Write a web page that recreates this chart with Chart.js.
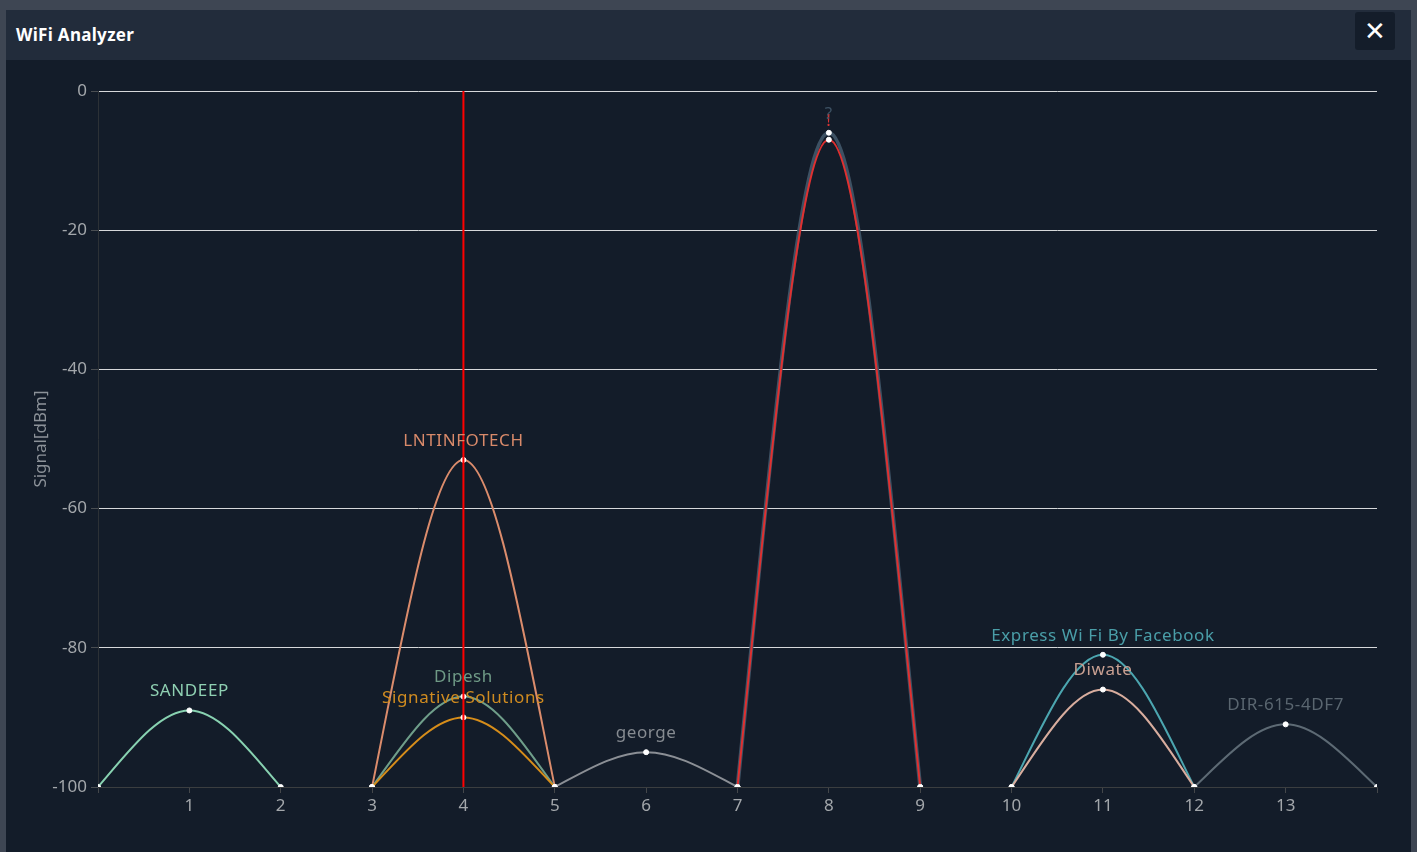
<!DOCTYPE html>
<html>
<head>
<meta charset="utf-8">
<script src="https://cdn.jsdelivr.net/npm/chart.js@4/dist/chart.umd.min.js"></script>
<style>
  html, body { margin: 0; padding: 0; width: 1417px; height: 852px; overflow: hidden; background: #3e4653; }
  #panel { position: absolute; left: 6px; top: 10px; width: 1405px; height: 842px; background: #131c29; }
  #header { position: absolute; left: 0; top: 0; width: 1405px; height: 50px; background: #222c3b; }
  #title { position: absolute; left: 10px; top: 13px; font-family: "Noto Sans", "Open Sans", sans-serif; font-weight: 700; font-size: 17px; letter-spacing: 0.3px; color: #ffffff; }
  #close { position: absolute; left: 1349px; top: 2px; width: 40px; height: 38px; background: #141d2a; border-radius: 3px; color: #fff; font-family: "DejaVu Sans", sans-serif; font-size: 26px; line-height: 38px; text-align: center; }
  #wrap { position: absolute; left: 0; top: 50px; width: 1405px; height: 792px; }
</style>
</head>
<body>
<div id="panel">
  <div id="header"><div id="title">WiFi Analyzer</div><div id="close">✕</div></div>
  <div id="wrap"><canvas id="c" width="1405" height="792"></canvas></div>
</div>
<script>
// ---- data ----
const networks = ['SANDEEP', 'LNTINFOTECH', 'Dipesh', 'Signative Solutions', 'george', '!', '?', 'Express Wi Fi By Facebook', 'Diwate', 'DIR-615-4DF7'];
const channels = [1, 4, 4, 4, 6, 8, 8, 11, 11, 13];
const signals  = [-89, -53, -87, -90, -95, -7, -6, -81, -86, -91];
const floorSignal = -100;
const selectedChannel = 4;
const xTickValues = [1, 2, 3, 4, 5, 6, 7, 8, 9, 10, 11, 12, 13];
const yTickValues = [0, -20, -40, -60, -80, -100];
const yTitle = 'Signal[dBm]';

// ---- styles ----
const lineColors = ['#88d2b1', '#db8c6c', '#6f9e8a', '#d68d1a', '#8b8f95', '#e03030', '#3d5163', '#4ca6b0', '#d8ad9e', '#5d6a74'];
const labelColors = ['#8fd0b2', '#d98a6a', '#6f9a86', '#cf8b20', '#868b91', '#d63434', '#3d5163', '#4a9ea8', '#c9a092', '#5a6670'];
const footSteepness = 0.46; // shape of the channel arcs (1/3 = monotone, 2/3 = parabola)

const datasets = networks.map((name, i) => ({
  label: name,
  data: [
    { x: channels[i] - 1, y: floorSignal },
    { x: channels[i], y: signals[i] },
    { x: channels[i] + 1, y: floorSignal }
  ],
  borderColor: lineColors[i],
  borderWidth: name === '?' ? 4 : 2,
  cubicInterpolationMode: 'monotone',
  pointRadius: 2.5,
  pointBackgroundColor: '#ffffff',
  pointBorderColor: '#ffffff',
  pointBorderWidth: 1,
  order: 20 - i,
  fill: false,
  arc: true
}));
datasets[6].order = 30; // slate '?' below red
datasets.push({
  label: 'selected',
  data: [{ x: selectedChannel, y: 0 }, { x: selectedChannel, y: floorSignal }],
  borderColor: '#ff0000',
  borderWidth: 2,
  pointRadius: 0,
  tension: 0,
  order: 0,
  fill: false
});

// arc shaping: set bezier control points from the scale-computed pixel positions
const arcPlugin = {
  id: 'arcShape',
  beforeDatasetDraw(chart, args) {
    const meta = args.meta;
    const ds = chart.data.datasets[args.index];
    if (!ds.arc) return;
    const pts = meta.data;
    if (pts.length !== 3) return;
    const [p0, p1, p2] = pts;
    const dxl = (p1.x - p0.x) / 3, dxr = (p2.x - p1.x) / 3;
    p0.cp1x = p0.x; p0.cp1y = p0.y;
    p0.cp2x = p0.x + dxl; p0.cp2y = p0.y + footSteepness * (p1.y - p0.y);
    p1.cp1x = p1.x - dxl; p1.cp1y = p1.y;
    p1.cp2x = p1.x + dxr; p1.cp2y = p1.y;
    p2.cp1x = p2.x - dxr; p2.cp1y = p2.y + footSteepness * (p1.y - p2.y);
    p2.cp2x = p2.x; p2.cp2y = p2.y;
    meta.dataset._pointsUpdated = true;
    delete meta.dataset._path;
  }
};

const labelPlugin = {
  id: 'peakLabels',
  afterDatasetsDraw(chart) {
    const ctx = chart.ctx;
    ctx.save();
    ctx.font = '17px "Noto Sans", "Open Sans", sans-serif';
    if ('letterSpacing' in ctx) ctx.letterSpacing = '0.6px';
    ctx.textAlign = 'center';
    ctx.textBaseline = 'middle';
    networks.forEach((name, i) => {
      const pt = chart.getDatasetMeta(i).data[1];
      ctx.fillStyle = labelColors[i];
      ctx.fillText(name, pt.x, pt.y - 19);
    });
    ctx.restore();
  }
};

const tickFont = { family: '"Noto Sans", "Open Sans", sans-serif', size: 17 };

new Chart(document.getElementById('c'), {
  type: 'line',
  data: { datasets },
  options: {
    responsive: false,
    animation: false,
    layout: { padding: { top: 31, right: 34, bottom: 0, left: 0 } },
    plugins: { legend: { display: false }, tooltip: { enabled: false } },
    scales: {
      x: {
        type: 'linear',
        min: 0,
        max: 14,
        afterBuildTicks: s => { s.ticks = [0].concat(xTickValues, [14]).map(v => ({ value: v })); },
        afterFit: s => { s.height = 65; s.paddingLeft = 0; s.paddingRight = 0; },
        ticks: {
          color: '#a3a7ab',
          font: tickFont,
          padding: 3,
          maxRotation: 0,
          autoSkip: false,
          callback: v => (xTickValues.includes(v) ? String(v) : '')
        },
        grid: { drawOnChartArea: false, drawTicks: true, tickLength: 6, tickColor: '#44474a', color: '#44474a' },
        border: { display: true, color: '#3b3e40', width: 1 }
      },
      y: {
        type: 'linear',
        min: -100,
        max: 0,
        afterBuildTicks: s => { s.ticks = yTickValues.map(v => ({ value: v })); },
        afterFit: s => { s.width = 92; },
        ticks: {
          color: '#a3a7ab',
          font: tickFont,
          padding: 4,
          callback: v => String(v)
        },
        grid: {
          drawTicks: true,
          tickLength: 7,
          tickColor: '#4a4e52',
          color: ctx => (ctx.tick && ctx.tick.value === -100 ? '#3b3e40' : '#d6d8da'),
          lineWidth: 1
        },
        border: { display: true, color: '#2c3136', width: 1 },
        title: {
          display: true,
          text: yTitle,
          color: '#8c9299',
          font: { family: '"Noto Sans", "Open Sans", sans-serif', size: 17 },
          padding: { top: 25, bottom: 0 }
        }
      }
    }
  },
  plugins: [arcPlugin, labelPlugin]
});
</script>
</body>
</html>
